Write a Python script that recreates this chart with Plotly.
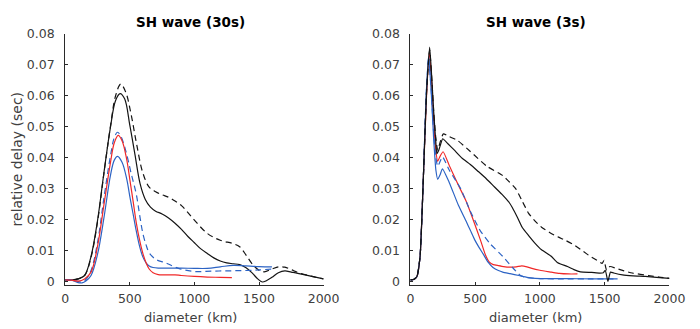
import plotly.graph_objects as go

# ---------------- data: SH wave (30s) ----------------
L_blk_x = [0, 50, 100, 150, 200, 250, 300, 350, 390, 425, 460, 500, 540, 580, 620, 660, 700, 750, 800, 850,
           900, 950, 1000, 1050, 1100, 1150, 1200, 1250, 1300, 1350, 1400, 1450, 1490, 1525, 1560, 1600, 1650,
           1700, 1750, 1800, 1900, 2000]
L_blk_y = [0.0005, 0.0005, 0.0008, 0.0019, 0.0081, 0.0196, 0.0352, 0.0498, 0.0585, 0.0607, 0.0590, 0.0505,
           0.0410, 0.0315, 0.0265, 0.0240, 0.0227, 0.0218, 0.0205, 0.0188, 0.0168, 0.0145, 0.0125, 0.0105,
           0.0090, 0.0076, 0.0066, 0.0060, 0.0057, 0.0054, 0.0044, 0.0026, 0.0008, -0.0002, 0.0003, 0.0013,
           0.0028, 0.0034, 0.0030, 0.0026, 0.0017, 0.0008]

L_blkd_x = [0, 50, 100, 150, 200, 250, 300, 350, 390, 430, 470, 510, 550, 600, 650, 700, 750, 800, 850, 900,
            950, 1000, 1100, 1200, 1300, 1350, 1400, 1450, 1500, 1540, 1600, 1650, 1700, 1750, 1800, 1900, 2000]
L_blkd_y = [0.0005, 0.0005, 0.0008, 0.0019, 0.0078, 0.0192, 0.0350, 0.0500, 0.0600, 0.0638, 0.0610, 0.0540,
            0.0450, 0.0352, 0.0305, 0.0290, 0.0280, 0.0272, 0.0260, 0.0245, 0.0222, 0.0198, 0.0155, 0.0133,
            0.0122, 0.0112, 0.0085, 0.0055, 0.0036, 0.0031, 0.0040, 0.0047, 0.0046, 0.0038, 0.0029, 0.0017,
            0.0008]

L_red_x = [0, 50, 100, 150, 200, 250, 300, 350, 380, 410, 440, 476, 500, 526, 550, 576, 600, 626, 650, 680,
           720, 760, 800, 850, 900, 1000, 1100, 1200, 1290]
L_red_y = [0.0005, 0.0004, 0.0001, 0.0008, 0.0030, 0.0113, 0.0248, 0.0383, 0.0448, 0.0472, 0.0455, 0.0394,
           0.0330, 0.0258, 0.0190, 0.0133, 0.0092, 0.0060, 0.0040, 0.0028, 0.0022, 0.0021, 0.0021, 0.0021,
           0.0019, 0.0016, 0.0014, 0.0013, 0.0012]

L_blu_x = [0, 50, 100, 130, 160, 200, 250, 300, 350, 380, 405, 440, 476, 500, 526, 550, 576, 600, 626, 650,
           680, 720, 800, 900, 1000, 1100, 1200, 1300, 1400, 1500, 1600]
L_blu_y = [0.0005, 0.0004, -0.0004, -0.0005, 0.0001, 0.0019, 0.0087, 0.0206, 0.0342, 0.0392, 0.0404, 0.0385,
           0.0331, 0.0275, 0.0217, 0.0163, 0.0113, 0.0080, 0.0060, 0.0050, 0.0045, 0.0043, 0.0043, 0.0043,
           0.0042, 0.0042, 0.0047, 0.0052, 0.0050, 0.0048, 0.0047]

L_blud_x = [0, 50, 100, 130, 160, 200, 250, 300, 350, 380, 405, 430, 470, 510, 551, 576, 601, 626, 651, 702,
            777, 877, 1000, 1130, 1250, 1380, 1500, 1600]
L_blud_y = [0.0005, 0.0004, 0.0000, -0.0002, 0.0006, 0.0035, 0.0125, 0.0270, 0.0405, 0.0465, 0.0482, 0.0470,
            0.0420, 0.0350, 0.0280, 0.0215, 0.0155, 0.0118, 0.0092, 0.0071, 0.0060, 0.0042, 0.0032, 0.0033,
            0.0034, 0.0035, 0.0037, 0.0040]

# ---------------- data: SH wave (3s) ----------------
R_blk_x = [0, 25, 50, 75, 100, 125, 149, 165, 180, 195, 205, 220, 235, 250, 290, 338, 400, 463, 525, 588, 650,
           713, 763, 788, 825, 863, 913, 963, 1013, 1088, 1138, 1213, 1263, 1313, 1400, 1463, 1490, 1505, 1525,
           1545, 1570, 1638, 1720, 1813, 1900, 2000]
R_blk_y = [0.0005, 0.0006, 0.0015, 0.0080, 0.0330, 0.0610, 0.0757, 0.0660, 0.0550, 0.0460, 0.0413, 0.0425,
           0.0445, 0.0461, 0.0445, 0.0425, 0.0398, 0.0378, 0.0355, 0.0331, 0.0305, 0.0279, 0.0255, 0.0238,
           0.0208, 0.0175, 0.0148, 0.0123, 0.0102, 0.0081, 0.0060, 0.0048, 0.0038, 0.0031, 0.0029, 0.0027,
           0.0028, 0.0036, 0.0000, 0.0030, 0.0027, 0.0021, 0.0018, 0.0016, 0.0013, 0.0010]

R_blkd_x = [0, 25, 50, 75, 100, 125, 149, 165, 180, 195, 211, 230, 255, 300, 363, 463, 588, 713, 763, 813, 863,
            913, 963, 1013, 1075, 1138, 1200, 1263, 1325, 1388, 1440, 1480, 1495, 1515, 1540, 1588, 1650, 1713,
            1838, 1920, 2000]
R_blkd_y = [0.0005, 0.0006, 0.0015, 0.0080, 0.0330, 0.0610, 0.0748, 0.0660, 0.0550, 0.0470, 0.0424, 0.0450,
            0.0477, 0.0468, 0.0456, 0.0420, 0.0373, 0.0342, 0.0322, 0.0300, 0.0260, 0.0220, 0.0195, 0.0175,
            0.0158, 0.0144, 0.0132, 0.0118, 0.0100, 0.0081, 0.0068, 0.0058, 0.0068, 0.0036, 0.0048, 0.0042,
            0.0034, 0.0027, 0.0019, 0.0014, 0.0010]

R_red_x = [0, 25, 50, 75, 100, 125, 147, 165, 180, 195, 211, 230, 253, 300, 372, 430, 480, 540, 580, 610, 640,
           680, 720, 763, 818, 860, 900, 938, 1000, 1088, 1150, 1220, 1290]
R_red_y = [0.0005, 0.0006, 0.0015, 0.0080, 0.0330, 0.0600, 0.0740, 0.0640, 0.0520, 0.0430, 0.0388, 0.0405,
           0.0419, 0.0375, 0.0310, 0.0260, 0.0205, 0.0135, 0.0085, 0.0062, 0.0054, 0.0051, 0.0048, 0.0046,
           0.0047, 0.0050, 0.0047, 0.0042, 0.0036, 0.0030, 0.0026, 0.0024, 0.0024]

R_blu_x = [0, 25, 50, 75, 100, 122, 141, 160, 180, 197, 211, 230, 248, 300, 372, 430, 463, 496, 530, 563, 600,
           638, 680, 713, 770, 838, 900, 963, 1100, 1213, 1400, 1600]
R_blu_y = [0.0005, 0.0006, 0.0015, 0.0080, 0.0330, 0.0600, 0.0726, 0.0620, 0.0460, 0.0360, 0.0330, 0.0345,
           0.0364, 0.0320, 0.0245, 0.0195, 0.0165, 0.0135, 0.0110, 0.0088, 0.0062, 0.0045, 0.0035, 0.0030,
           0.0025, 0.0019, 0.0013, 0.0010, 0.0009, 0.0009, 0.0008, 0.0008]

R_blud_x = [0, 25, 50, 75, 100, 122, 141, 160, 180, 197, 211, 230, 248, 300, 388, 463, 538, 613, 713, 788, 850,
            900, 1000, 1200, 1400, 1600]
R_blud_y = [0.0005, 0.0006, 0.0015, 0.0080, 0.0330, 0.0600, 0.0726, 0.0625, 0.0480, 0.0400, 0.0372, 0.0388,
            0.0403, 0.0360, 0.0300, 0.0227, 0.0165, 0.0123, 0.0081, 0.0045, 0.0019, 0.0012, 0.0009, 0.0008,
            0.0008, 0.0008]

titles = ["SH wave (30s)", "SH wave (3s)"]
x_label = "diameter (km)"
y_label = "relative delay (sec)"
x_ticks = [0, 500, 1000, 1500, 2000]
x_ticktext = ["0", "500", "1000", "1500", "2000"]
y_ticks = [0, 0.01, 0.02, 0.03, 0.04, 0.05, 0.06, 0.07, 0.08]
y_ticktext = ["0", "0.01", "0.02", "0.03", "0.04", "0.05", "0.06", "0.07", "0.08"]

BLACK = "#141414"
RED = "#f02828"
BLUE = "#2c63c4"
DASH = "6px,4px"
LW = 1.2

fig = go.Figure()

def add(x, y, color, dash, xa, ya, smooth):
    fig.add_trace(go.Scatter(x=x, y=y, mode="lines", xaxis=xa, yaxis=ya, showlegend=False,
                             line=dict(color=color, width=LW, dash=dash, shape="spline", smoothing=smooth)))

for xa, ya, sm, series in [
    ("x", "y", 1.0, [(L_blkd_x, L_blkd_y, BLACK, DASH), (L_blk_x, L_blk_y, BLACK, "solid"),
                     (L_blud_x, L_blud_y, BLUE, DASH), (L_blu_x, L_blu_y, BLUE, "solid"),
                     (L_red_x, L_red_y, RED, "solid")]),
    ("x2", "y2", 0.5, [(R_red_x, R_red_y, RED, "solid"), (R_blud_x, R_blud_y, BLUE, DASH),
                       (R_blu_x, R_blu_y, BLUE, "solid"), (R_blkd_x, R_blkd_y, BLACK, DASH),
                       (R_blk_x, R_blk_y, BLACK, "solid")]),
]:
    for sx, sy, c, d in series:
        add(sx, sy, c, d, xa, ya, sm)

FONT = "DejaVu Sans"
TXT = "#404040"
AX = "#2a2a2a"
W, H = 700, 329
ybot, ytop = 287.0, 26.8

common_x = dict(range=[0, 2000], tickvals=x_ticks, ticktext=x_ticktext, showline=True, linecolor=AX,
                linewidth=1, ticks="inside", ticklen=3, tickcolor=AX, showgrid=False, zeroline=False,
                tickfont=dict(family=FONT, size=12.5, color=TXT), ticklabelstandoff=2, fixedrange=True)
common_y = dict(range=[-0.0013, 0.08], tickvals=y_ticks, ticktext=y_ticktext, showline=True, linecolor=AX,
                linewidth=1, ticks="inside", ticklen=3, tickcolor=AX, showgrid=False, zeroline=False,
                tickfont=dict(family=FONT, size=12.5, color=TXT), ticklabelstandoff=7,
                domain=[(H - ybot) / H, (H - ytop) / H])

fig.update_layout(
    width=W, height=H, margin=dict(l=0, r=0, t=0, b=0),
    paper_bgcolor="white", plot_bgcolor="white",
    xaxis=dict(domain=[63 / W, 329 / W], anchor="y", **common_x),
    yaxis=dict(anchor="x", **common_y),
    xaxis2=dict(domain=[418.3 / W, 685 / W], anchor="y2", **common_x),
    yaxis2=dict(anchor="x2", **common_y),
)

for cx, t in zip([191.7, 547.5], titles):
    fig.add_annotation(x=cx / W, y=(H - 14) / H, xref="paper", yref="paper", text="<b>" + t + "</b>",
                       showarrow=False, xanchor="center", yanchor="middle",
                       font=dict(family=FONT, size=13.5, color="#000000"))
    fig.add_annotation(x=cx / W, y=(H - 320.5) / H, xref="paper", yref="paper", text=x_label,
                       showarrow=False, xanchor="center", yanchor="middle",
                       font=dict(family=FONT, size=13, color=TXT))

fig.add_annotation(x=13 / W, y=(H - 156) / H, xref="paper", yref="paper", text=y_label, textangle=-90,
                   showarrow=False, xanchor="center", yanchor="middle",
                   font=dict(family=FONT, size=14, color=TXT))

fig.write_html("out.html")
